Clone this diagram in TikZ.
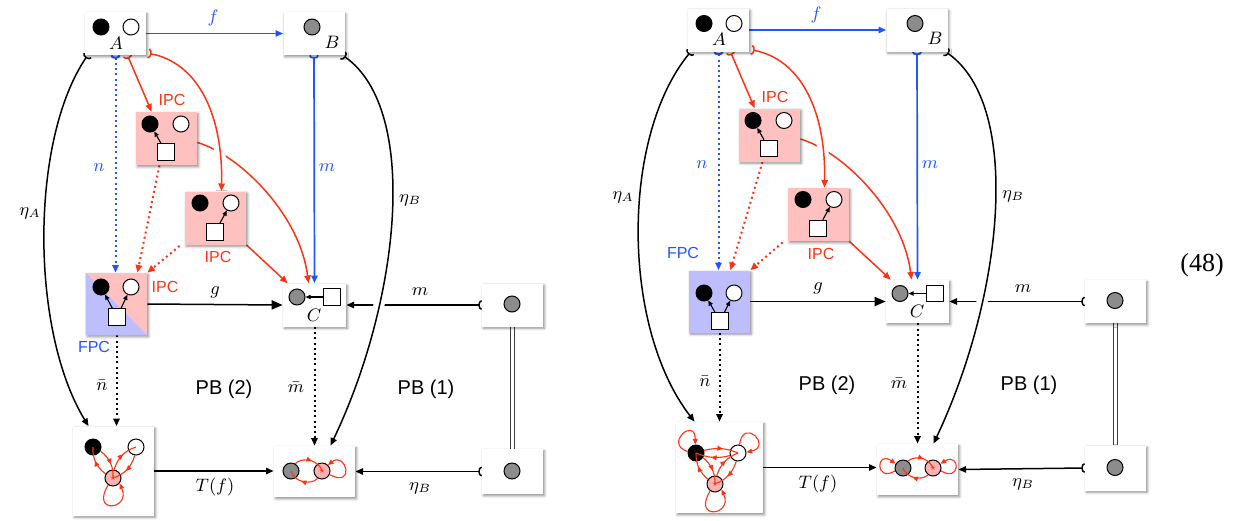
\documentclass[tikz,border=0pt]{standalone}
\usepackage{fontspec}
\setsansfont{Liberation Sans}
\newfontfamily\eqnfont{Liberation Serif}
\usetikzlibrary{arrows.meta,shadows.blur,decorations.markings}
\definecolor{morblue}{RGB}{34,85,255}
\definecolor{ipcred}{RGB}{255,51,20}
\definecolor{ipcpink}{RGB}{255,192,192}
\definecolor{fpcblue}{RGB}{190,190,255}
\definecolor{starpink}{RGB}{250,178,178}
\definecolor{nodegray}{RGB}{140,140,140}
\pgfdeclarelayer{edges}
\pgfsetlayers{edges,main}
\tikzset{mono/.tip={Arc Barb[reversed,length=1.7pt,width=5pt]}}
\begin{document}
\begin{tikzpicture}[x=.5pt,y=.5pt,>={Triangle[length=3.8pt,width=3.2pt]},
                    line/.style={line width=.75pt},
                    obj/.style={fill=white,inner sep=0pt,minimum width=30.5pt,minimum height=21.5pt,
                                blur shadow={shadow xshift=.7pt,shadow yshift=-.9pt,shadow blur radius=1.3pt,shadow opacity=45}},
                    ipc/.style={obj,fill=ipcpink,minimum height=26.5pt},
                    blk/.style={circle,draw,line width=.5pt,fill=black,minimum size=8pt,inner sep=0pt},
                    wht/.style={blk,fill=white},
                    gry/.style={blk,fill=nodegray},
                    sq/.style={draw,line width=.5pt,fill=white,minimum size=8.3pt,inner sep=0pt},
                    starv/.style={blk,fill=starpink,font=\tiny,text=ipcred},
                    inarr/.style={line width=.55pt,-{Triangle[length=2.6pt,width=2.2pt]}},
                    redarr/.style={ipcred,line width=.55pt,-{Triangle[length=2.8pt,width=2.4pt]}},
                    redmid/.style={ipcred,line width=.55pt,postaction={decorate},
                                   decoration={markings,mark=at position .55 with {\arrow{Triangle[length=2.8pt,width=2.4pt]}}}},
                    dots/.style={line width=1pt,dash pattern=on 1pt off 1.6pt},
                    halo/.style={preaction={draw=white,line width=5.5pt,-}},
                    lbl/.style={font=\small},
                    tag/.style={font=\sffamily\fontsize{8}{9}\selectfont},
                    pb/.style={font=\sffamily\fontsize{10}{12}\selectfont}]
 \useasboundingbox (0,0) rectangle (1235,-520);
 \begin{scope}[name prefix=l-]
  \node[obj,fill=ipcpink,minimum height=31pt] (fpc) at (116.5,-304) {};
  \fill[fpcblue] (fpc.north west) -- (fpc.south west) -- (fpc.south east) -- cycle;
  \node[blk] (fpc1) at (101,-287) {}; \node[wht] (fpc2) at (131,-287) {};
  \node[sq] (fpc3) at (117,-317) {};
  \draw[inarr] (fpc3) -- (fpc1); \draw[inarr] (fpc3) -- (fpc2);
  \node[tag,text=ipcred] (fpcipc) at (165,-287) {IPC};
  \node[tag,text=morblue] (fpct) at (94,-347) {FPC};
  \node[lbl] (etaal) at (30,-213) {\(\eta_A\)};
  \node[obj,minimum width=40.5pt,minimum height=44.5pt] (ta) at (113.5,-471) {};
  \node[blk] (ta1) at (93,-447) {}; \node[wht] (ta2) at (136,-447) {};
  \node[starv] (ta3) at (113,-478) {\(\star\)};
  \draw[redmid] (ta1) to[bend left=28] (ta3);
  \draw[redmid] (ta3) to[bend left=28] (ta1);
  \draw[redmid] (ta2) to[bend left=28] (ta3);
  \draw[redmid] (ta3) to[bend left=28] (ta2);
  \draw[redarr] (ta3.235) .. controls +(-18,-30) and +(12,-26) .. (ta3.320);
  \node[obj,minimum width=40.5pt,minimum height=25.5pt] (tb) at (314.5,-471.5) {};
  \node[gry] (tb1) at (291,-471) {}; \node[starv] (tb2) at (322,-471) {\(\star\)};
  \draw[redmid] (tb1) to[bend left=60] (tb2);
  \draw[redmid] (tb2) to[bend left=60] (tb1);
  \draw[redarr] (tb2.-25) .. controls +(26,-14) and +(18,14) .. (tb2.45);
 \end{scope}
 \begin{scope}[shift={(603,3.5)},name prefix=r-]
  \node[obj,fill=fpcblue,minimum height=31pt] (fpc) at (116.5,-305) {};
  \node[blk] (fpc1) at (101,-296.5) {}; \node[wht] (fpc2) at (131,-296.5) {};
  \node[sq] (fpc3) at (117,-324.5) {};
  \draw[inarr] (fpc3) -- (fpc1); \draw[inarr] (fpc3) -- (fpc2);
  \node[tag,text=morblue] (fpct) at (80,-256.5) {FPC};
  \node[lbl] (etaal) at (20,-200.5) {\(\eta_A\)};
  \node[obj,minimum width=43.5pt,minimum height=45.5pt] (ta) at (116.5,-471) {};
  \node[blk] (ta1) at (93,-456.5) {}; \node[wht] (ta2) at (135,-456.5) {};
  \node[starv] (ta3) at (112,-487.5) {\(\star\)};
  \draw[redmid] (ta1) to[bend left=18] (ta2);
  \draw[redmid] (ta2) to[bend left=18] (ta1);
  \draw[redmid] (ta1) to[bend left=25] (ta3);
  \draw[redmid] (ta3) to[bend left=25] (ta1);
  \draw[redmid] (ta2) to[bend left=25] (ta3);
  \draw[redmid] (ta3) to[bend left=25] (ta2);
  \draw[redarr] (ta1.170) .. controls +(-24,8) and +(0,28) .. (ta1.95);
  \draw[redarr] (ta2.80) .. controls +(4,28) and +(26,6) .. (ta2.5);
  \draw[redarr] (ta3.235) .. controls +(-18,-30) and +(12,-26) .. (ta3.320);
  \node[obj,minimum width=40.5pt,minimum height=25.5pt] (tb) at (314.5,-473) {};
  \node[gry] (tb1) at (300,-471.5) {}; \node[starv] (tb2) at (330,-471.5) {\(\star\)};
  \draw[redmid] (tb1) to[bend left=55] (tb2);
  \draw[redmid] (tb2) to[bend left=55] (tb1);
  \draw[redarr] (tb1.200) .. controls +(-20,-12) and +(-20,14) .. (tb1.150);
  \draw[redarr] (tb2.-20) .. controls +(20,-12) and +(20,12) .. (tb2.30);
 \end{scope}
 \foreach \side/\dx/\dy in {l/0/0,r/603/3.5}{
 \begin{scope}[shift={(\dx,\dy)},name prefix=\side-]
  \node[obj] (a) at (115.5,-33.5) {};
  \node[blk] (a1) at (101,-27) {}; \node[wht] (a2) at (131,-27) {};
  \node[lbl] (al) at (116,-43) {\(A\)};
  \node[obj] (b) at (314,-33.5) {};
  \node[gry] (b1) at (312,-27) {};
  \node[lbl] (bl) at (332,-42) {\(B\)};
  \node[ipc] (ipc1) at (166.5,-138.5) {};
  \node[blk] (ipc11) at (150,-124) {}; \node[wht] (ipc12) at (181,-124) {};
  \node[sq] (ipc13) at (166,-152) {};
  \node[ipc] (ipc2) at (215.5,-218) {};
  \node[blk] (ipc21) at (200,-203) {}; \node[wht] (ipc22) at (231,-203) {};
  \node[sq] (ipc23) at (215,-232) {};
  \node[obj,minimum width=31.5pt] (c) at (314.5,-305) {};
  \node[gry] (c1) at (297,-297) {}; \node[sq] (c2) at (332,-297) {};
  \node[lbl] (cl) at (314,-315) {\(C\)};
  \node[obj] (rb1) at (512.5,-305) {}; \node[gry] (rb11) at (512,-304) {};
  \node[obj,minimum height=22.5pt] (rb2) at (512.5,-471.5) {}; \node[gry] (rb21) at (512,-471) {};
  \draw[inarr] (ipc13) -- (ipc11);
  \draw[inarr] (ipc23) -- (ipc22);
  \draw[inarr] (c2) -- (c1);
  \node[tag,text=ipcred] (ipc1t) at (172,-100) {IPC};
  \node[tag,text=ipcred] (ipc2t) at (218,-257) {IPC};
  \node[lbl,text=morblue] (fl) at (213,-18) {\(f\)};
  \node[lbl,text=morblue] (nl) at (99,-168) {\(n\)};
  \node[lbl,text=morblue] (ml) at (327,-168) {\(m\)};
  \node[lbl] (gl) at (215,-292) {\(g\)};
  \node[lbl] (mhl) at (420,-292) {\(m\)};
  \node[lbl] (etabl) at (410,-200) {\(\eta_B\)};
  \node[lbl] (nbl) at (102,-385) {\(\bar n\)};
  \node[lbl] (mbl) at (296,-387) {\(\bar m\)};
  \node[lbl] (tfl) at (215,-487) {\(T(f)\)};
  \node[lbl] (etabhl) at (420,-488) {\(\eta_B\)};
  \node[pb] (pb2) at (224,-389) {PB (2)};
  \node[pb] (pb1) at (426,-389) {PB (1)};
 \end{scope}}
 \foreach \side/\dx/\dy/\eax/\rdx in {l/0/0/30/-10,r/603/3.5/18/-20}{
 \begin{scope}[shift={(\dx,\dy)},name prefix=\side-]
  \begin{pgfonlayer}{edges}
   \draw[line,morblue,line width=.85pt,->] (a.east) -- (b.west);
   \draw[line,morblue,dots,mono->] (a.south) -- (a.south |- fpc.north);
   \draw[line,morblue,line width=.85pt,mono->] (b.south) -- (c.north);
   \draw[line,ipcred,mono->] ([shift={(12,0)}]a.south) -- ([shift={(16,0)}]ipc1.north west);
   \draw[line,ipcred,->] ([shift={(0,-4)}]ipc1.east) .. controls (240,-155) and (300,-215) .. ([shift={(-6,0)}]c.north);
   \draw[line,ipcred,halo,mono->] ([shift={(2,2)}]a.south east) .. controls (195,-62) and (223,-110) .. ([shift={(6,0)}]ipc2.north);
   \draw[line,ipcred,->] (ipc2.south east) -- ([shift={(5,0)}]c.north west);
   \draw[line,ipcred,dots,->] ([shift={(-7,0)}]ipc1.south) -- ([shift={(\rdx,0)}]fpc.north east);
   \draw[line,ipcred,dots,->] ([shift={(-5,-1)}]ipc2.south west) -- (fpc.north east);
   \draw[line,-{Triangle[length=5.5pt,width=4.6pt]}] (fpc.east) -- (c.west);
   \draw[line,mono->] (rb1.west) -- (c.east);
   \draw[line,halo,mono->] ([shift={(-2,0)}]b.south east) .. controls (420,-110) and (400,-300) .. ([shift={(16,0)}]tb.north);
   \draw[line,mono->] ([shift={(3,0)}]a.south west) .. controls (\eax,-140) and (\eax,-330) .. ([shift={(-25,0)}]ta.north);
   \draw[line,dots,->] (fpc.south) -- (fpc.south |- ta.north);
   \draw[line,dots,->] (c.south) -- (tb.north);
   \draw[line,->] (ta.east) -- (ta.east -| tb.west);
   \draw[line,mono->] (rb2.west) -- (tb.east);
   \draw[line width=.55pt,black!75,double,double distance=1.5pt] (rb1.south) -- (rb2.north);
  \end{pgfonlayer}
 \end{scope}}
 \node[font=\eqnfont\fontsize{13}{15}\selectfont] (eqno) at (1202,-265) {(48)};
\end{tikzpicture}
\end{document}
